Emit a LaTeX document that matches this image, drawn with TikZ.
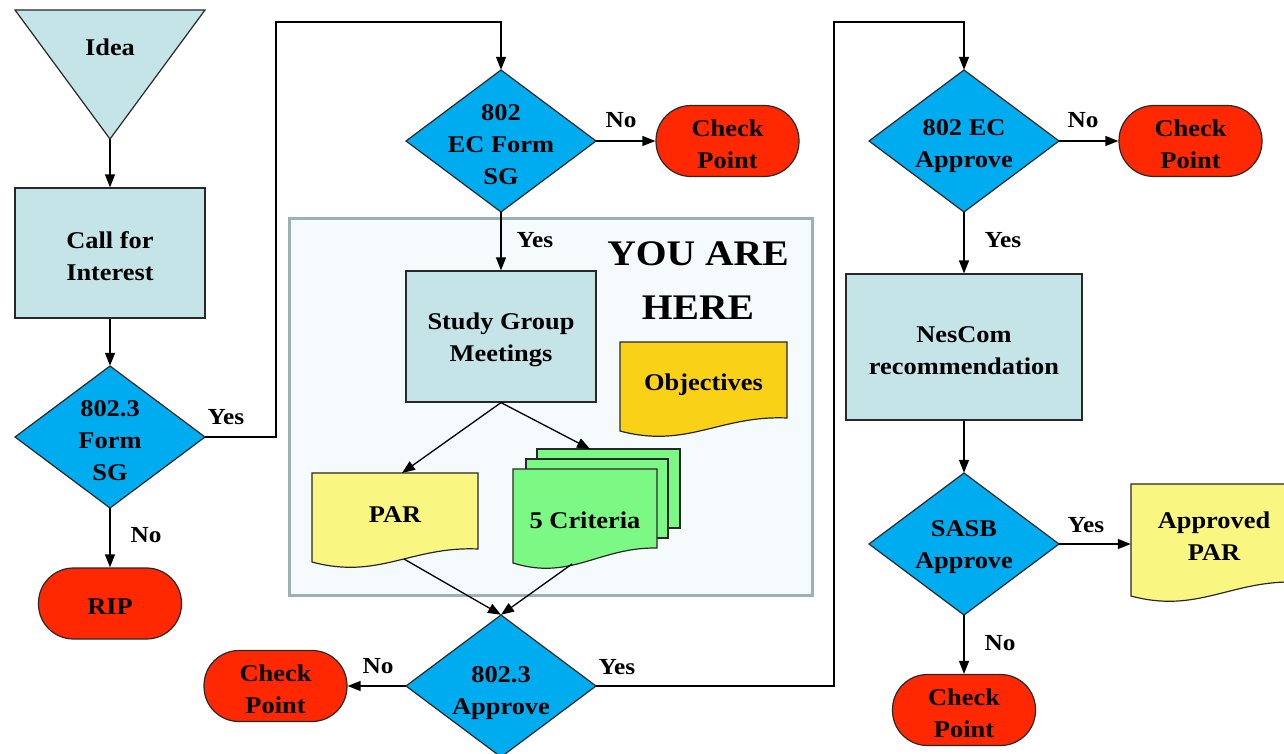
\documentclass[tikz,border=0pt]{standalone}
\usepackage{fontspec}
\setmainfont{Liberation Serif}[FakeStretch=1.1]
\usetikzlibrary{arrows.meta,calc}
\definecolor{lcyan}{RGB}{196,228,231}
\definecolor{dblue}{RGB}{0,172,240}
\definecolor{tred}{RGB}{255,40,0}
\definecolor{pyellow}{RGB}{249,247,130}
\definecolor{ogold}{RGB}{249,210,23}
\definecolor{cgreen}{RGB}{124,248,132}
\definecolor{boxfill}{RGB}{245,250,252}
\definecolor{boxline}{RGB}{155,177,181}
\definecolor{edge}{RGB}{40,40,40}
\newcommand\docshape[6]{% x0, top, x1, left bottom, right bottom, fill
  \draw[shapeline,fill=#6] (#1,#2) -- (#1,#4)
    .. controls ({#1+0.4*(#3-#1)},#4+18) and ({#1+0.6*(#3-#1)},#4-16) .. (#3,#5)
    -- (#3,#2) -- cycle;}
\newcommand\diashape[3]{% cx, cy, fill
  \draw[shapeline,fill=#3] (#1-95,#2) -- (#1,#2-71) -- (#1+95,#2) -- (#1,#2+71) -- cycle;}
\tikzset{
  every node/.style={font=\bfseries\fontsize{24}{32}\selectfont, align=center, text=black},
  tx/.style={label={[inner sep=0pt,yshift=-3.5pt,draw=none,fill=none]center:#1}},
  txd/.style 2 args={label={[inner sep=0pt,yshift=-#1,draw=none,fill=none]center:#2}},
  shapeline/.style={draw=edge, line width=1.2pt},
  box/.style={shapeline, fill=lcyan, inner sep=0pt},
  term/.style={shapeline, fill=tred, inner sep=0pt, rounded corners=35pt, minimum width=143pt, minimum height=71pt},
  dtext/.style={inner sep=0pt, minimum width=190pt, minimum height=142pt},
  txt/.style={inner sep=0pt},
  lbl/.style={inner sep=0pt, font=\bfseries\fontsize{23}{28}\selectfont},
  arr/.style={-{Triangle[length=13pt,width=10pt]}, line width=1.3pt, draw=black},
}
\begin{document}
\begin{tikzpicture}[x=1pt,y=-1pt]
\clip (0,0) rectangle (1284,754);
\fill[white] (0,0) rectangle (1284,754);

% study group frame
\draw[line width=3pt, draw=boxline, fill=boxfill] (289,218) rectangle (812,595);

% Idea
\draw[shapeline, fill=lcyan] (15,10) -- (205,10) -- (110,139) -- cycle;
\coordinate (ideatip) at (110,139);
\node[txt] (idea) at (110,47) {Idea};

\node[box, minimum width=190pt, minimum height=130pt, tx={Call for\\Interest}] (call) at (110,253) {};

\diashape{110}{437}{dblue}
\node[dtext, tx={802.3\\Form\\SG}] (formsg) at (110,437) {};

\node[term, tx={RIP}] (rip) at (110,603.5) {};

\diashape{501}{141}{dblue}
\node[dtext, tx={802\\EC Form\\SG}] (ecform) at (501,141) {};
\node[term, tx={Check\\Point}] (cp1) at (727.5,141) {};

\node[box, minimum width=190pt, minimum height=131pt, tx={Study Group\\Meetings}] (study) at (501,336.5) {};

\node[txt, font=\bfseries\fontsize{36}{54}\selectfont] (here) at (698,281) {YOU ARE\\HERE};

\docshape{620}{342}{787}{431}{418}{ogold}
\node[txt, minimum width=167pt, minimum height=89pt] (obj) at (703.5,385) {Objectives};

\docshape{312}{473}{478}{562}{549}{pyellow}
\node[txt, minimum width=166pt, minimum height=89pt] (par) at (395,515) {PAR};

\draw[shapeline, fill=cgreen] (537,449) rectangle (680,528);
\draw[shapeline, fill=cgreen] (526,459) rectangle (668,538);
\docshape{513}{469}{657}{563}{548}{cgreen}
\node[txt, minimum width=144pt, minimum height=94pt] (crit) at (585,520) {5 Criteria};
\coordinate (critin) at (590,449);
\coordinate (critout) at (572,564);
\coordinate (parin) at (402,473);
\coordinate (parout) at (404,559);

\diashape{501}{686}{dblue}
\node[dtext, txd={7.5pt}{802.3\\Approve}] (appr) at (501,686) {};
\node[term, tx={Check\\Point}] (cp2) at (275.5,686) {};

\diashape{964}{141}{dblue}
\node[dtext, txd={5pt}{802 EC\\Approve}] (ecappr) at (964,141) {};
\node[term, tx={Check\\Point}] (cp3) at (1190.5,141) {};

\node[box, minimum width=236pt, minimum height=146pt, tx={NesCom\\recommendation}] (nescom) at (964,347) {};

\diashape{964}{544}{dblue}
\node[dtext, tx={SASB\\Approve}] (sasb) at (964,544) {};

\docshape{1131}{484}{1297}{596}{582}{pyellow}
\node[txt, minimum width=166pt, minimum height=112pt] (apar) at (1214,536) {Approved\\PAR};

\node[term, tx={Check\\Point}] (cp4) at (964,710) {};

% connectors
\draw[arr] (ideatip) -- (call.north);
\draw[arr] (call.south) -- (formsg.north);
\draw[arr] (formsg.south) -- (rip.north);
\node[lbl] (l1) at (146,535) {No};
\coordinate (k1) at (276,437);
\coordinate (k2) at (276,22);
\coordinate (k3) at (501,22);
\draw[arr] (formsg.east) -- (k1) -- (k2) -- (k3) -- (ecform.north);
\node[lbl] (l2) at (226,417) {Yes};
\draw[arr] (ecform.east) -- (cp1.west);
\node[lbl] (l3) at (621,120) {No};
\draw[arr] (ecform.south) -- (study.north);
\node[lbl] (l4) at (535,240) {Yes};
\draw[arr] (study.south) -- (parin);
\draw[arr] (study.south) -- (critin);
\draw[arr] (parout) -- (appr.north);
\draw[arr] (critout) -- (appr.north);
\draw[arr] (appr.west) -- (cp2.east);
\node[lbl] (l5) at (378,666) {No};
\coordinate (k4) at (834,686);
\coordinate (k5) at (834,22);
\coordinate (k6) at (964,22);
\draw[arr] (appr.east) -- (k4) -- (k5) -- (k6) -- (ecappr.north);
\node[lbl] (l6) at (617,667) {Yes};
\draw[arr] (ecappr.east) -- (cp3.west);
\node[lbl] (l7) at (1083,120) {No};
\draw[arr] (ecappr.south) -- (nescom.north);
\node[lbl] (l8) at (1003,240) {Yes};
\draw[arr] (nescom.south) -- (sasb.north);
\draw[arr] (sasb.east) -- (sasb.east -| apar.west);
\node[lbl] (l9) at (1086,525) {Yes};
\draw[arr] (sasb.south) -- (cp4.north);
\node[lbl] (l10) at (1000,643) {No};
\end{tikzpicture}
\end{document}
